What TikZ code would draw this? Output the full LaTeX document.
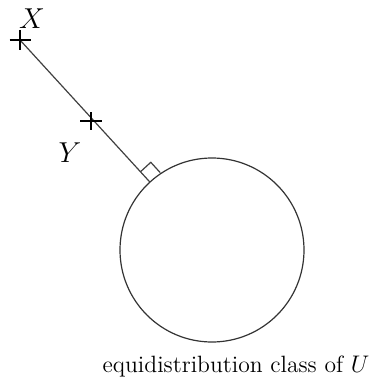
\documentclass[tikz,border=0pt]{standalone}
\usetikzlibrary{calc}
\begin{document}
\begin{tikzpicture}[x=0.5pt,y=-0.5pt,
  crossmark/.style={line width=0.6pt},
  thinline/.style={line width=0.6pt, draw=black!75},
  lbl/.style={font=\fontsize{11.8}{14}\selectfont},
  ptlbl/.style={font=\fontsize{13.5}{16}\selectfont}]
\useasboundingbox (0,0) rectangle (381,381);
\coordinate (C) at (212,250);
\coordinate (X) at (20,40);
\coordinate (Y) at (91,121);
\node[draw=black!80, line width=0.6pt, circle, minimum size=92pt, inner sep=0pt] (circ) at (C) {};
\coordinate (T) at ($(C)!92/284.5!(X)$);
\draw[thinline] (X) -- (T);
% crosses
\draw[crossmark] ([xshift=-5.25pt]X) -- ([xshift=5.25pt]X);
\draw[crossmark] ([yshift=5pt]X) -- ([yshift=-5pt]X);
\draw[crossmark] ([xshift=-5.5pt]Y) -- ([xshift=5.5pt]Y);
\draw[crossmark] ([yshift=4.5pt]Y) -- ([yshift=-4.5pt]Y);
% right angle mark
\coordinate (A) at ($(T)!14/192.5!(X)$);
\coordinate (B) at ($(T)!14/192.5!-90:(X)$);
\coordinate (D) at ($(A)+(B)-(T)$);
\draw[thinline] (A) -- (D) -- (B);
\node[ptlbl] (xl) at (32,19) {$X$};
\node[ptlbl] (yl) at (70,153) {$Y$};
\node[lbl, anchor=base] (cl) at (236,372) {equidistribution class of $U$};
\end{tikzpicture}
\end{document}
